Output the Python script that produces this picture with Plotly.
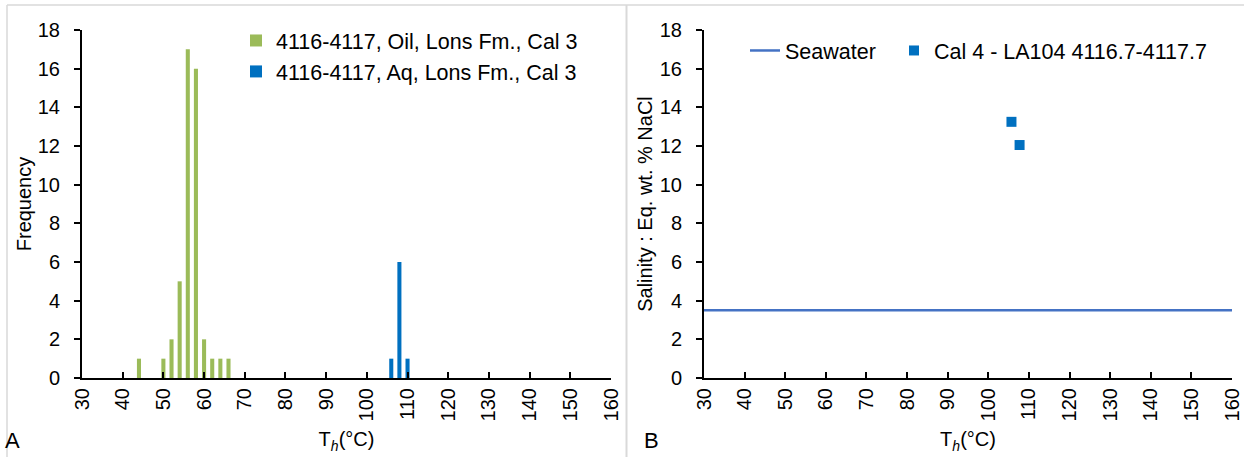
import plotly.graph_objects as go

W, H = 1244, 457

# Panel A: histogram data (Th bins, °C)
oil_temp = [44, 50, 52, 54, 56, 58, 60, 62, 64, 66]
oil_freq = [1, 1, 2, 5, 17, 16, 2, 1, 1, 1]
aq_temp = [106, 108, 110]
aq_freq = [1, 6, 1]

# Panel B: salinity vs Th
sw_temp = [30, 160]
sw_sal = [3.5, 3.5]
cal4_temp = [105.7, 107.7]
cal4_sal = [13.25, 12.05]

x_ticks = list(range(30, 161, 10))
y_ticks = list(range(0, 19, 2))

FONT = "Liberation Sans, Arial, sans-serif"
FS = 20
LFS = 21.5
GREEN = "#9BBB59"
BLUE = "#0070C0"
SEA = "#4472C4"

fig = go.Figure()
fig.add_trace(go.Bar(x=oil_temp, y=oil_freq, width=1.0, marker=dict(color=GREEN, line=dict(width=0)),
                     name="4116-4117, Oil, Lons Fm., Cal 3", xaxis="x", yaxis="y", legend="legend"))
fig.add_trace(go.Bar(x=aq_temp, y=aq_freq, width=1.0, marker=dict(color=BLUE, line=dict(width=0)),
                     name="4116-4117, Aq, Lons Fm., Cal 3", xaxis="x", yaxis="y", legend="legend"))
fig.add_trace(go.Scatter(x=sw_temp, y=sw_sal, mode="lines", line=dict(color=SEA, width=2.5),
                         name="Seawater", xaxis="x2", yaxis="y2", legend="legend2"))
fig.add_trace(go.Scatter(x=cal4_temp, y=cal4_sal, mode="markers",
                         marker=dict(symbol="square", size=10, color=BLUE),
                         name="Cal 4 - LA104 4116.7-4117.7", xaxis="x2", yaxis="y2", legend="legend3"))

def px_x(p):
    return p / W

def px_y(p):
    return 1 - p / H

ydom = [px_y(378), px_y(30)]
xaxis_common = dict(range=[30, 160], tickvals=x_ticks, tickangle=-90, showgrid=False, zeroline=False,
                    showline=True, linecolor="black", linewidth=2, ticks="inside", ticklen=6,
                    tickcolor="black", tickwidth=2, tickfont=dict(size=FS, color="black"), automargin=False,
                    title=dict(text="T<sub><i>h</i></sub>(°C)", font=dict(size=FS, color="black"), standoff=12))
yaxis_common = dict(range=[0, 18], tickvals=y_ticks, showgrid=False, zeroline=False,
                    showline=True, linecolor="black", linewidth=2, ticks="outside", ticklen=6,
                    tickcolor="black", tickwidth=2, tickfont=dict(size=FS, color="black"), automargin=False,
                    ticklabelstandoff=10)

fig.update_layout(
    width=W, height=H,
    margin=dict(l=0, r=0, t=0, b=0),
    paper_bgcolor="white", plot_bgcolor="white",
    font=dict(family=FONT, size=FS, color="black"),
    barmode="overlay",
    xaxis=dict(domain=[px_x(82), px_x(611)], anchor="y", **xaxis_common),
    yaxis=dict(domain=ydom, anchor="x", title=dict(text="Frequency", font=dict(size=FS), standoff=1), **yaxis_common),
    xaxis2=dict(domain=[px_x(704), px_x(1232)], anchor="y2", **xaxis_common),
    yaxis2=dict(domain=ydom, anchor="x2", title=dict(text="Salinity : Eq. wt. % NaCl", font=dict(size=FS), standoff=2),
                **yaxis_common),
    legend=dict(x=px_x(236), y=px_y(20), xanchor="left", yanchor="top", orientation="v",
                bgcolor="rgba(0,0,0,0)", font=dict(size=LFS), itemwidth=30, tracegroupgap=2),
    legend2=dict(x=px_x(745), y=px_y(30), xanchor="left", yanchor="top", orientation="h",
                 bgcolor="rgba(0,0,0,0)", font=dict(size=LFS)),
    legend3=dict(x=px_x(894), y=px_y(30), xanchor="left", yanchor="top", orientation="h",
                 bgcolor="rgba(0,0,0,0)", font=dict(size=LFS)),
    shapes=[
        dict(type="line", xref="paper", yref="paper", x0=px_x(7), x1=1, y0=px_y(5), y1=px_y(5),
             line=dict(color="#D9D9D9", width=1.5)),
        dict(type="line", xref="paper", yref="paper", x0=px_x(7), x1=px_x(7), y0=0, y1=px_y(5),
             line=dict(color="#D9D9D9", width=1.5)),
        dict(type="line", xref="paper", yref="paper", x0=px_x(626.5), x1=px_x(626.5), y0=0, y1=px_y(5),
             line=dict(color="#D9D9D9", width=2)),
    ],
    annotations=[
        dict(text="A", xref="paper", yref="paper", x=px_x(12), y=px_y(440), xanchor="center", yanchor="middle",
             showarrow=False, font=dict(size=22)),
        dict(text="B", xref="paper", yref="paper", x=px_x(651), y=px_y(440), xanchor="center", yanchor="middle",
             showarrow=False, font=dict(size=22)),
    ],
)

fig.write_html("out.html", config={"displayModeBar": False},
               post_script="document.body.style.margin='0';document.body.style.padding='0';")
